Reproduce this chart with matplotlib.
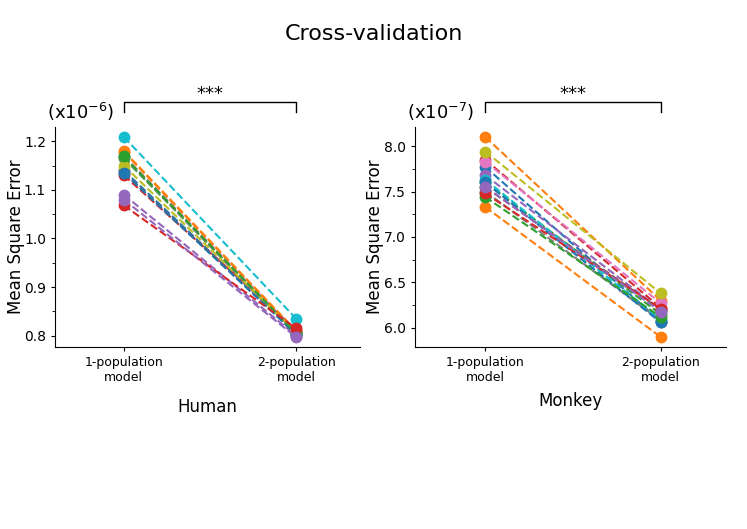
import matplotlib
matplotlib.use("Agg")
import matplotlib.pyplot as plt
from matplotlib.ticker import AutoMinorLocator
import numpy as np

categories = ["1-population\nmodel", "2-population\nmodel"]

# Human (x1e-6)
human_1pop = [1.140, 1.180, 1.165, 1.130, 1.090, 1.136, 1.170, 1.168, 1.150, 1.209,
              1.135, 1.178, 1.169, 1.068, 1.080]
human_2pop = [0.805, 0.810, 0.806, 0.812, 0.800, 0.804, 0.808, 0.800, 0.807, 0.835,
              0.803, 0.809, 0.805, 0.815, 0.797]

# Monkey (x1e-7)
monkey_1pop = [7.77, 8.10, 7.60, 7.85, 7.68, 7.55, 7.83, 7.50, 7.94, 7.63,
               7.60, 7.33, 7.44, 7.48, 7.55]
monkey_2pop = [6.07, 6.30, 6.15, 6.22, 6.20, 6.20, 6.27, 6.08, 6.38, 6.09,
               6.06, 5.90, 6.12, 6.21, 6.18]

colors = plt.rcParams['axes.prop_cycle'].by_key()['color']

fig = plt.figure(figsize=(7.47, 5.29), dpi=100)
fig.suptitle("Cross-validation", fontsize=16, y=0.955)

panels = [
    ([0.0736, 0.344, 0.408, 0.416], human_1pop, human_2pop, "Human", "6", 10),
    ([0.5556, 0.344, 0.416, 0.416], monkey_1pop, monkey_2pop, "Monkey", "7", 6),
]

xpos = np.arange(len(categories))
for rect, v1, v2, name, exp, pad in panels:
    ax = fig.add_axes(rect)
    for i, (a, b) in enumerate(zip(v1, v2)):
        c = colors[i % len(colors)]
        ax.plot(xpos, [a, b], linestyle="--", color=c, linewidth=1.5,
                marker="o", markersize=7.5)
    ax.set_xlim(-0.4, 1.37)
    ax.set_xticks(xpos)
    ax.set_xticklabels(categories, fontsize=9)
    ax.yaxis.set_minor_locator(AutoMinorLocator(2))
    ax.tick_params(axis="y", which="major", labelsize=10, length=3)
    ax.tick_params(axis="y", which="minor", length=2)
    ax.tick_params(axis="x", length=3)
    ax.spines["top"].set_visible(False)
    ax.spines["right"].set_visible(False)
    ax.set_ylabel("Mean Square Error", fontsize=12)
    ax.yaxis.set_label_coords(-0.10, 0.5)
    ax.set_xlabel(name, fontsize=12, labelpad=pad)
    ax.text(-0.025, 1.02, r"(x10$^{-%s}$)" % exp, transform=ax.transAxes,
            fontsize=13, ha="left", va="bottom")
    # significance bracket
    trans = matplotlib.transforms.blended_transform_factory(ax.transData, ax.transAxes)
    ax.plot([xpos[0], xpos[0], xpos[1], xpos[1]], [1.07, 1.115, 1.115, 1.07],
            color="black", linewidth=1, transform=trans, clip_on=False)
    ax.text((xpos[0] + xpos[1]) / 2, 1.11, "***", transform=trans,
            ha="center", va="bottom", fontsize=13)

fig.savefig("out.png", dpi=100)
